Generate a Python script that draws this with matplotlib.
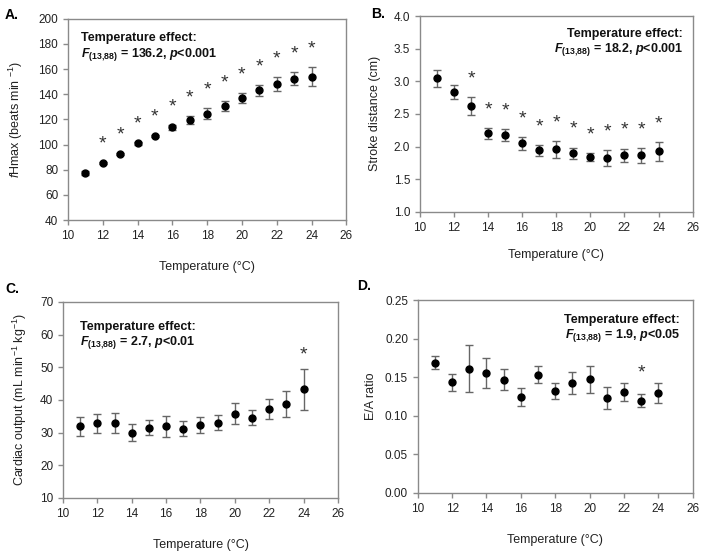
import matplotlib
matplotlib.use('Agg')
import matplotlib.pyplot as plt
import numpy as np

plt.rcParams['font.family'] = ['Liberation Sans', 'DejaVu Sans']
plt.rcParams['font.size'] = 8.5
plt.rcParams['mathtext.fontset'] = 'custom'
plt.rcParams['mathtext.rm'] = 'Liberation Sans'
plt.rcParams['mathtext.it'] = 'Liberation Sans:italic'
plt.rcParams['mathtext.bf'] = 'Liberation Sans:bold'
plt.rcParams['mathtext.bfit'] = 'Liberation Sans:italic:bold'

# Data
temp = [11, 12, 13, 14, 15, 16, 17, 18, 19, 20, 21, 22, 23, 24]

fh_mean = [77.2, 85.2, 92.6, 100.9, 107.0, 113.9, 119.5, 124.5, 130.4, 137.0, 143.1, 148.2, 152.4, 154.0]
fh_err = [1.6, 1.0, 1.0, 1.0, 1.0, 1.9, 2.9, 4.4, 4.0, 4.3, 4.6, 5.3, 5.2, 7.7]
fh_sig = [0, 1, 1, 1, 1, 1, 1, 1, 1, 1, 1, 1, 1, 1]

sd_mean = [3.05, 2.84, 2.62, 2.20, 2.18, 2.05, 1.94, 1.96, 1.895, 1.844, 1.82, 1.87, 1.865, 1.925]
sd_err = [0.13, 0.11, 0.14, 0.086, 0.09, 0.10, 0.09, 0.13, 0.09, 0.06, 0.12, 0.10, 0.11, 0.14]
sd_sig = [0, 0, 1, 1, 1, 1, 1, 1, 1, 1, 1, 1, 1, 1]

co_mean = [31.9, 32.9, 33.0, 30.0, 31.5, 31.9, 31.25, 32.3, 33.1, 35.8, 34.5, 37.25, 38.8, 43.25]
co_err = [2.8, 2.9, 3.0, 2.6, 2.3, 3.25, 2.4, 2.5, 2.4, 3.25, 2.3, 3.05, 3.9, 6.2]
co_sig = [0, 0, 0, 0, 0, 0, 0, 0, 0, 0, 0, 0, 0, 1]

ea_mean = [0.169, 0.1436, 0.1608, 0.155, 0.147, 0.1245, 0.1534, 0.1319, 0.1422, 0.1474, 0.1233, 0.131, 0.1198, 0.1297]
ea_err = [0.009, 0.011, 0.0306, 0.0195, 0.0138, 0.0117, 0.0113, 0.0105, 0.014, 0.0177, 0.0146, 0.012, 0.0085, 0.0133]
ea_sig = [0, 0, 0, 0, 0, 0, 0, 0, 0, 0, 0, 0, 1, 0]


def stats(f, p):
    return (r'Temperature effect:' + '\n' + r'$\mathbfit{F}_{\mathbf{(13{,}88)}}$'
            + ' = ' + f + ', ' + r'$\mathbfit{p}$' + p)


fig = plt.figure(figsize=(7.01, 5.53), dpi=100)

panels = [
    # rect, mean, err, sig, ylim, yticks, ylabel, ylabel x, xlabel y, stats, text pos, ha, star offset, letter
    ([0.097, 0.602, 0.397, 0.364], fh_mean, fh_err, fh_sig, (40, 200), np.arange(40, 201, 20),
     r'$\it{f}$Hmax (beats min $^{-1}$)', -0.155, -0.205, stats('136.2', '<0.001'),
     (0.047, 0.935), 'left', 13, 'A.', (0.007, 0.985)),
    ([0.599, 0.617, 0.389, 0.354], sd_mean, sd_err, sd_sig, (1.0, 4.0), np.arange(1.0, 4.01, 0.5),
     'Stroke distance (cm)', -0.142, -0.19, stats('18.2', '<0.001'),
     (0.965, 0.94), 'right', 13, 'B.', (0.53, 0.988)),
    ([0.090, 0.0995, 0.392, 0.3545], co_mean, co_err, co_sig, (10, 70), np.arange(10, 71, 10),
     r'Cardiac output (mL min$^{-1}$ kg$^{-1}$)', -0.125, -0.21, stats('2.7', '<0.01'),
     (0.062, 0.905), 'left', 10, 'C.', (0.007, 0.49)),
    ([0.596, 0.1085, 0.392, 0.349], ea_mean, ea_err, ea_sig, (0.0, 0.25), np.arange(0.0, 0.251, 0.05),
     'E/A ratio', -0.15, -0.212, stats('1.9', '<0.05'),
     (0.955, 0.93), 'right', 15, 'D.', (0.51, 0.495)),
]

ylabel_fmt = ['{:.0f}', '{:.1f}', '{:.0f}', '{:.2f}']

for i, (rect, mean, err, sig, ylim, yticks, ylabel, ylx, xly, txt, tpos, ha, off, letter, lpos) in enumerate(panels):
    ax = fig.add_axes(rect)
    ax.errorbar(temp, mean, yerr=err, fmt='o', color='black', ms=5,
                ecolor='#666666', elinewidth=1, capsize=2.8, capthick=1)
    for t, m, e, s in zip(temp, mean, err, sig):
        if s:
            ax.annotate('*', (t, m + e), xytext=(0, off), textcoords='offset points',
                        ha='center', va='center', fontsize=14, color='#333333')
    ax.set_xlim(10, 26)
    ax.set_xticks(np.arange(10, 27, 2))
    ax.set_ylim(*ylim)
    ax.set_yticks(yticks)
    ax.set_yticklabels([ylabel_fmt[i].format(v) for v in yticks])
    for sp in ax.spines.values():
        sp.set_color('#8a8a8a')
        sp.set_linewidth(1)
    ax.tick_params(direction='out', length=3.5, width=1, color='#8a8a8a',
                   labelcolor='#222222', labelsize=8.5)
    ax.set_ylabel(ylabel, fontsize=9, color='#222222')
    ax.set_xlabel('Temperature (°C)', fontsize=9, color='#222222')
    ax.yaxis.set_label_coords(ylx, 0.5)
    ax.xaxis.set_label_coords(0.5, xly)
    ax.text(tpos[0], tpos[1], txt, transform=ax.transAxes, ha=ha, va='top',
            fontsize=9, fontweight='bold', linespacing=1.15, color='#111111',
            multialignment=ha)
    fig.text(lpos[0], lpos[1], letter, fontsize=10, fontweight='bold', va='top')

fig.savefig('out.png', dpi=100)
